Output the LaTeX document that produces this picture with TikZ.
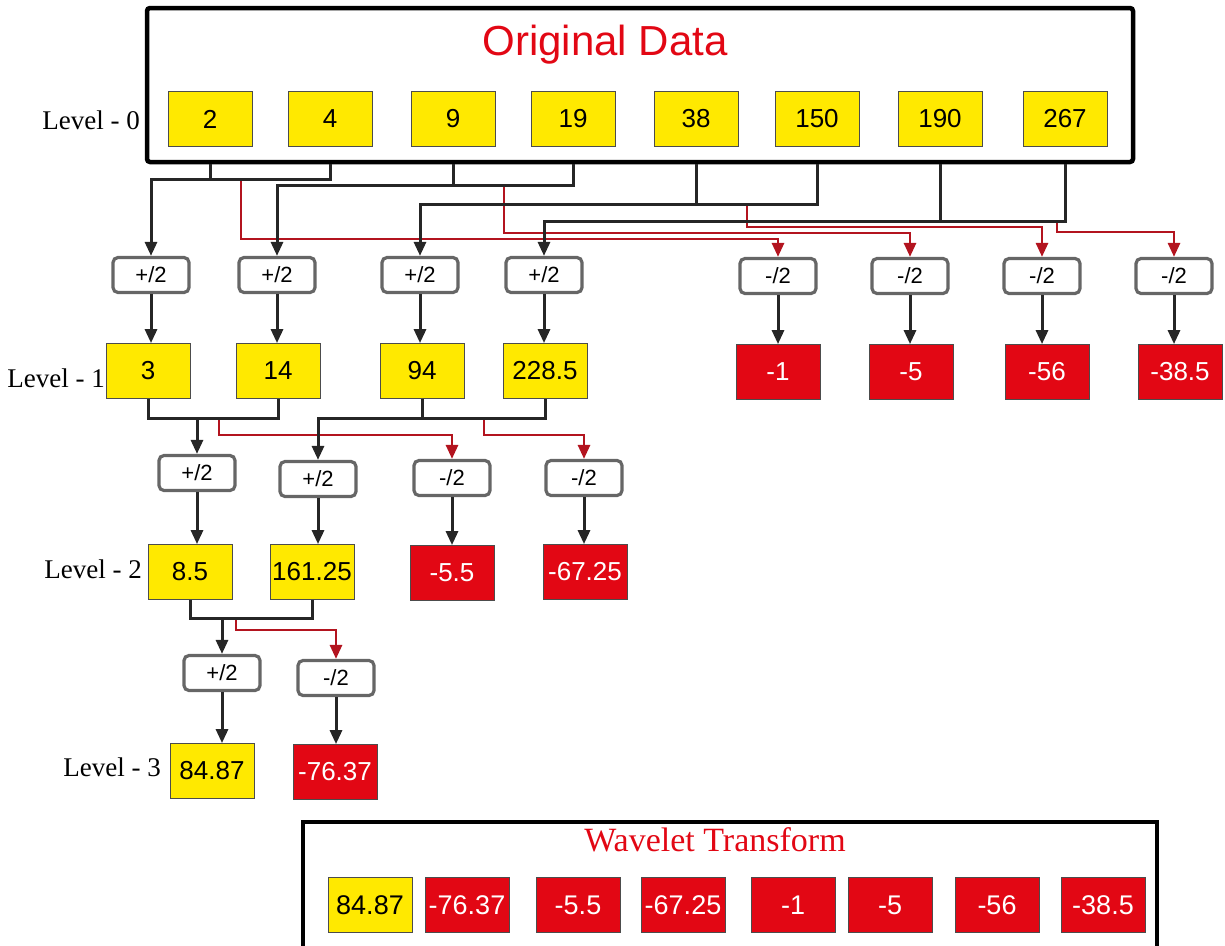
\documentclass[tikz,border=0pt]{standalone}
\usepackage{fontspec}
\setmainfont{Liberation Serif}
\setsansfont{Liberation Sans}
\usetikzlibrary{arrows.meta}

\definecolor{valyellow}{HTML}{FFE900}
\definecolor{valred}{HTML}{E20714}
\definecolor{linkred}{HTML}{B3141F}

\tikzset{
  val/.style={draw=black!70, line width=0.8pt, fill=valyellow, minimum width=84pt, minimum height=55pt, inner sep=0pt, font=\sffamily\fontsize{26}{26}\selectfont},
  neg/.style={val, fill=valred, text=white},
  op/.style={draw=black!60, line width=3.2pt, rounded corners=5pt, fill=white, minimum width=76pt, minimum height=35pt, inner sep=0pt, font=\sffamily\fontsize{22}{22}\selectfont},
  lvl/.style={anchor=east, inner sep=0pt, font=\fontsize{27}{27}\selectfont},
  wire/.style={draw=black!85, line width=3pt},
  rwire/.style={draw=linkred, line width=2.8pt},
  frame/.style={draw=black, line width=4.5pt, rounded corners=3pt}
}

\begin{document}
\begin{tikzpicture}[x=1pt, y=-1pt, >={Triangle[length=14pt,width=12pt]}]
	\useasboundingbox (0,0) rectangle (1225,945);

	% ---------------------- Level 0: original data ----------------------
	\node (orig) [frame, minimum width=986pt, minimum height=154pt] at (640,85) {};
	\node (title) [text=valred, font=\sffamily\fontsize{42}{42}\selectfont] at (605,45) {Original Data};
	\node (l0) [lvl] at (140,120) {Level - 0};
	\foreach \n/\x/\t in {1/210/2, 2/330/4, 3/453/9, 4/573/19, 5/696/38, 6/817/150, 7/940/190, 8/1065/267}
		\node (a\n) [val] at (\x,119) {\t};

	% ---------------------- Level 1 ----------------------
	\foreach \n/\x in {1/151, 2/277, 3/420, 4/544}
		\node (s\n) [op] at (\x,275) {+/2};
	\foreach \n/\x in {1/778, 2/910, 3/1042, 4/1174}
		\node (d\n) [op] at (\x,276) {-/2};
	\node (l1) [lvl] at (105,378) {Level - 1};
	\foreach \n/\x/\t in {1/148/3, 2/278/14, 3/422/94, 4/545/228.5}
		\node (v\n) [val] at (\x,371) {\t};
	\foreach \n/\x/\t in {1/778/-1, 2/911/-5, 3/1047/-56, 4/1180/-38.5}
		\node (w\n) [neg] at (\x,372) {\t};

	% pairs of level 0 -> sum and difference
	\foreach \i/\hy/\rx/\ry in {1/179/241/239, 2/185/504/233, 3/204/747/227, 4/221/1057/232} {
		\pgfmathtruncatemacro{\ia}{2*\i-1}
		\pgfmathtruncatemacro{\ib}{2*\i}
		\draw[rwire, ->] (\rx,\hy) |- (d\i |- 0,\ry) -- (d\i.north);
		\draw[wire] (a\ia |- orig.south) -- (a\ia |- 0,\hy);
		\draw[wire, ->] (a\ib |- orig.south) |- (s\i |- 0,\hy) -- (s\i.north);
		\draw[wire, ->] (s\i.south) -- (s\i.south |- v\i.north);
		\draw[wire, ->] (d\i.south) -- (d\i.south |- w\i.north);
	}

	% ---------------------- Level 2 ----------------------
	\node (t1) [op] at (197,473) {+/2};
	\node (t2) [op] at (318,479) {+/2};
	\node (e1) [op] at (452,478) {-/2};
	\node (e2) [op] at (584,478) {-/2};
	\node (l2) [lvl] at (142,569) {Level - 2};
	\node (u1) [val] at (190,572) {8.5};
	\node (u2) [val] at (312,572) {161.25};
	\node (x1) [neg] at (452,573) {-5.5};
	\node (x2) [neg] at (585,572) {-67.25};

	\draw[rwire, ->] (219,418) |- (e1 |- 0,435) -- (e1.north);
	\draw[rwire, ->] (484,418) |- (e2 |- 0,435) -- (e2.north);
	\draw[wire] (v1.south) |- (v2 |- 0,418) -- (v2.south);
	\draw[wire, ->] (t1 |- 0,418) -- (t1.north);
	\draw[wire] (v3.south) -- (v3 |- 0,418);
	\draw[wire, ->] (v4.south) |- (t2 |- 0,418) -- (t2.north);
	\draw[wire, ->] (t1.south) -- (t1.south |- u1.north);
	\draw[wire, ->] (t2.south) -- (t2.south |- u2.north);
	\draw[wire, ->] (e1.south) -- (e1.south |- x1.north);
	\draw[wire, ->] (e2.south) -- (e2.south |- x2.north);

	% ---------------------- Level 3 ----------------------
	\node (o1) [op] at (222,673) {+/2};
	\node (o2) [op] at (336,678) {-/2};
	\node (l3) [lvl] at (161,767) {Level - 3};
	\node (f1) [val] at (212,771) {84.87};
	\node (f2) [neg] at (335,772) {-76.37};

	\draw[rwire, ->] (236,618) |- (o2 |- 0,630) -- (o2.north);
	\draw[wire] (u1.south) |- (u2 |- 0,618) -- (u2.south);
	\draw[wire, ->] (o1 |- 0,618) -- (o1.north);
	\draw[wire, ->] (o1.south) -- (o1.south |- f1.north);
	\draw[wire, ->] (o2.south) -- (o2.south |- f2.north);

	% ---------------------- result ----------------------
	\coordinate (wl) at (303,946);
	\coordinate (wr) at (1157,946);
	\draw[frame, rounded corners=0pt] (wl) |- (wr |- 0,822) -- (wr);
	\node (wt) [text=valred, font=\fontsize{34}{34}\selectfont] at (715,840) {Wavelet Transform};
	\node (z1) [val, font=\sffamily\fontsize{27}{27}\selectfont] at (370,905) {84.87};
	\foreach \n/\x/\t in {2/467/-76.37, 3/578/-5.5, 4/683/-67.25, 5/793/-1, 6/890/-5, 7/997/-56, 8/1103/-38.5}
		\node (z\n) [neg, font=\sffamily\fontsize{27}{27}\selectfont] at (\x,905) {\t};
\end{tikzpicture}
\end{document}
